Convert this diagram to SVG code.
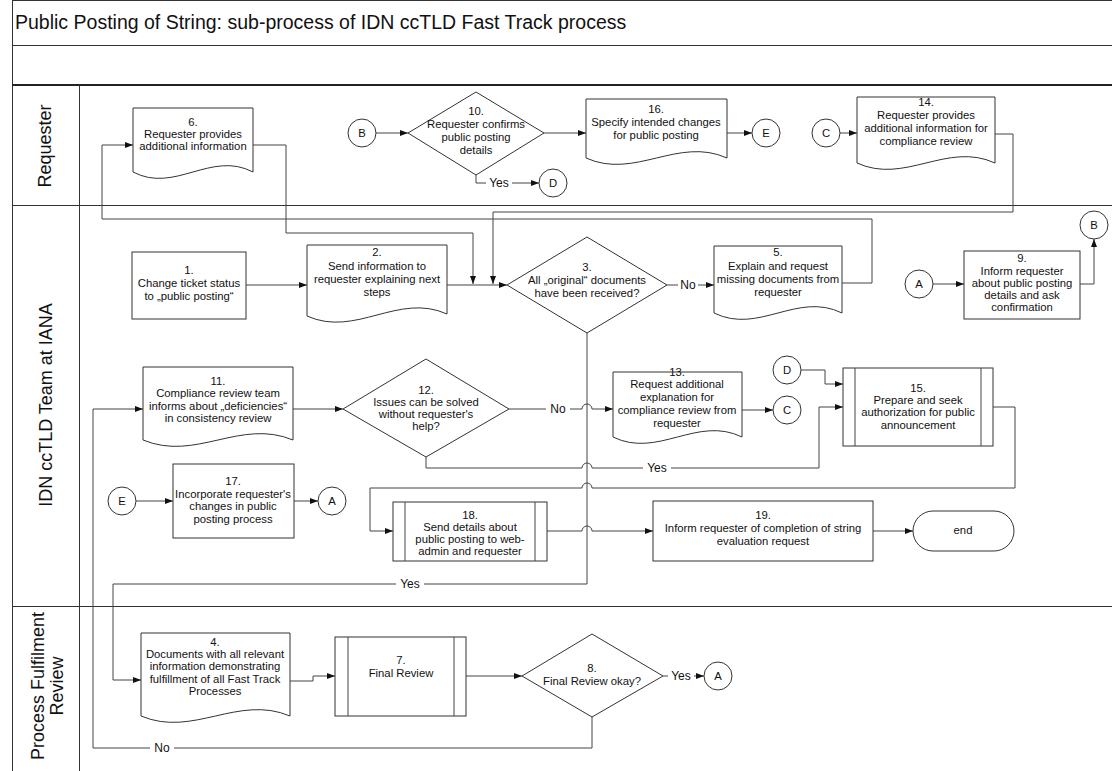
<svg xmlns="http://www.w3.org/2000/svg" width="1112" height="771" viewBox="0 0 1112 771">
<style>
.s{fill:#fff;stroke:#333;stroke-width:1}
.c{fill:none;stroke:#444;stroke-width:1}
.t{font-family:"Liberation Sans",Arial,sans-serif;font-size:11.3px;fill:#111;text-anchor:middle}
.l{font-family:"Liberation Sans",Arial,sans-serif;font-size:12px;fill:#111;text-anchor:middle}
.h{font-family:"Liberation Sans",Arial,sans-serif;font-size:18px;fill:#111;text-anchor:middle}
.fr{stroke:#333;stroke-width:1;fill:none}
</style>
<defs>
<marker id="a" markerWidth="8" markerHeight="6" refX="8" refY="3" orient="auto" markerUnits="userSpaceOnUse"><path d="M0,0L8,3L0,6z" fill="#111"/></marker>
</defs>
<rect width="1112" height="771" fill="#fff"/>
<g id="frame">
<line class="fr" x1="12" y1="0.5" x2="1112" y2="0.5"/>
<line class="fr" x1="12.5" y1="0" x2="12.5" y2="771"/>
<line class="fr" x1="12" y1="45.5" x2="1112" y2="45.5" stroke="#777"/>
<line x1="12" y1="85" x2="1112" y2="85" stroke="#222" stroke-width="2"/>
<line class="fr" x1="12" y1="205.5" x2="1112" y2="205.5" stroke="#666"/>
<line class="fr" x1="12" y1="606.5" x2="1112" y2="606.5" stroke="#666"/>
<line class="fr" x1="79.5" y1="85" x2="79.5" y2="771"/>
<text x="15" y="29" font-family="Liberation Sans,Arial,sans-serif" font-size="19.5" fill="#111">Public Posting of String: sub-process of IDN ccTLD Fast Track process</text>
<text class="h" transform="translate(51,146) rotate(-90)">Requester</text>
<text class="h" transform="translate(52,405) rotate(-90)">IDN ccTLD Team at IANA</text>
<text class="h" transform="translate(44,686) rotate(-90)">Process Fulfilment</text>
<text class="h" transform="translate(63,686) rotate(-90)">Review</text>
</g>
<g id="connectors">
<path class="c" d="M246,285H307" marker-end="url(#a)"/>
<path class="c" d="M447,285H507" marker-end="url(#a)"/>
<path class="c" d="M253,145H286V233H473V284" marker-end="url(#a)"/>
<path class="c" d="M842,283H872V219H102V145H133" marker-end="url(#a)"/>
<path class="c" d="M995,134H1013V212H493V284" marker-end="url(#a)"/>
<path class="c" d="M667,285H714" marker-end="url(#a)"/>
<path class="c" d="M587,333V584H113V680H141" marker-end="url(#a)"/>
<path class="c" d="M933,284H964" marker-end="url(#a)"/>
<path class="c" d="M1080,284H1094V239" marker-end="url(#a)"/>
<path class="c" d="M376,133H408" marker-end="url(#a)"/>
<path class="c" d="M544,133H586" marker-end="url(#a)"/>
<path class="c" d="M476,175V183H539" marker-end="url(#a)"/>
<path class="c" d="M727,133H752" marker-end="url(#a)"/>
<path class="c" d="M840,133H857" marker-end="url(#a)"/>
<path class="c" d="M592,717V748H93V409H143" marker-end="url(#a)"/>
<path class="c" d="M293,409H343" marker-end="url(#a)"/>
<path class="c" d="M509,409H582a5,5 0 0 1 10,0H613" marker-end="url(#a)"/>
<path class="c" d="M742,410H773" marker-end="url(#a)"/>
<path class="c" d="M801,370H825V384H843" marker-end="url(#a)"/>
<path class="c" d="M426,457V468H582a5,5 0 0 1 10,0H819V407H843" marker-end="url(#a)"/>
<path class="c" d="M993,407H1015V488H592a5,5 0 0 0 -10,0H370V531H393" marker-end="url(#a)"/>
<path class="c" d="M547,531H582a5,5 0 0 1 10,0H653" marker-end="url(#a)"/>
<path class="c" d="M873,531H913" marker-end="url(#a)"/>
<path class="c" d="M136,501H173" marker-end="url(#a)"/>
<path class="c" d="M294,501H318" marker-end="url(#a)"/>
<path class="c" d="M290,681H313V676H335" marker-end="url(#a)"/>
<path class="c" d="M466,676H522" marker-end="url(#a)"/>
<path class="c" d="M663,676H704" marker-end="url(#a)"/>
<g fill="#fff">
<rect x="678" y="278" width="20" height="14"/>
<rect x="486" y="176" width="26" height="14"/>
<rect x="546" y="402" width="24" height="14"/>
<rect x="643" y="461" width="28" height="14"/>
<rect x="396" y="577" width="28" height="14"/>
<rect x="150" y="741" width="24" height="14"/>
<rect x="668" y="669" width="26" height="14"/>
</g>
<text class="l" x="688" y="289">No</text>
<text class="l" x="499" y="187">Yes</text>
<text class="l" x="558" y="413">No</text>
<text class="l" x="657" y="472">Yes</text>
<text class="l" x="410" y="588">Yes</text>
<text class="l" x="162" y="752">No</text>
<text class="l" x="681" y="680">Yes</text>
</g>
<g id="n6"><path class="s" d="M133,108H253V172C211,150 175,194 133,172Z"/><text class="t" x="193" y="126">6.</text><text class="t" x="193" y="138">Requester provides</text><text class="t" x="193" y="150">additional information</text></g>
<g id="nB1"><circle class="s" cx="362" cy="133" r="14"/><text class="t" x="362" y="137">B</text></g>
<g id="n10"><path class="s" d="M408,133L476,92L544,133L476,175Z"/><text class="t" x="476" y="115">10.</text><text class="t" x="476" y="128">Requester confirms</text><text class="t" x="476" y="141">public posting</text><text class="t" x="476" y="154">details</text></g>
<g id="nD1"><circle class="s" cx="553" cy="183" r="14"/><text class="t" x="553" y="187">D</text></g>
<g id="n16"><path class="s" d="M586,99H727V158C678,136 635,180 586,158Z"/><text class="t" x="656" y="113">16.</text><text class="t" x="656" y="126">Specify intended changes</text><text class="t" x="656" y="139">for public posting</text></g>
<g id="nE1"><circle class="s" cx="766" cy="133" r="14"/><text class="t" x="766" y="137">E</text></g>
<g id="nC1"><circle class="s" cx="826" cy="133" r="14"/><text class="t" x="826" y="137">C</text></g>
<g id="n14"><path class="s" d="M857,97H995V163C947,141 905,185 857,163Z"/><text class="t" x="926" y="106">14.</text><text class="t" x="926" y="119">Requester provides</text><text class="t" x="926" y="132">additional information for</text><text class="t" x="926" y="145">compliance  review</text></g>
<g id="n1"><rect class="s" x="132" y="252" width="114" height="67"/><text class="t" x="189" y="274">1.</text><text class="t" x="189" y="287">Change ticket status</text><text class="t" x="189" y="300">to „public posting“</text></g>
<g id="n2"><path class="s" d="M307,245H447V314C398,292 356,338 307,316Z"/><text class="t" x="377" y="256">2.</text><text class="t" x="377" y="270">Send information to</text><text class="t" x="377" y="283">requester explaining next</text><text class="t" x="377" y="296">steps</text></g>
<g id="n3"><path class="s" d="M507,285L587,237L667,285L587,333Z"/><text class="t" x="587" y="271">3.</text><text class="t" x="587" y="284">All „original“ documents</text><text class="t" x="587" y="297">have been received?</text></g>
<g id="n5"><path class="s" d="M714,246H842V313C797,291 759,335 714,313Z"/><text class="t" x="778" y="256">5.</text><text class="t" x="778" y="270">Explain and request</text><text class="t" x="778" y="283">missing documents from</text><text class="t" x="778" y="296">requester</text></g>
<g id="nA1"><circle class="s" cx="919" cy="284" r="14"/><text class="t" x="919" y="288">A</text></g>
<g id="n9"><rect class="s" x="964" y="251" width="116" height="68"/><text class="t" x="1022" y="262">9.</text><text class="t" x="1022" y="275">Inform requester</text><text class="t" x="1022" y="287">about public posting</text><text class="t" x="1022" y="299">details and ask</text><text class="t" x="1022" y="311">confirmation</text></g>
<g id="nB2"><circle class="s" cx="1094" cy="225" r="14"/><text class="t" x="1094" y="229">B</text></g>
<g id="n11"><path class="s" d="M143,367H293V440C240,418 196,462 143,440Z"/><text class="t" x="218" y="385">11.</text><text class="t" x="218" y="397">Compliance review team</text><text class="t" x="218" y="410">informs about „deficiencies“</text><text class="t" x="218" y="422">in consistency review</text></g>
<g id="n12"><path class="s" d="M343,409L426,359L509,409L426,457Z"/><text class="t" x="426" y="394">12.</text><text class="t" x="426" y="406">Issues can be solved</text><text class="t" x="426" y="418">without requester's</text><text class="t" x="426" y="430">help?</text></g>
<g id="n13"><path class="s" d="M613,372H742V437C697,415 658,459 613,437Z"/><text class="t" x="677" y="376">13.</text><text class="t" x="677" y="388">Request additional</text><text class="t" x="677" y="401">explanation for</text><text class="t" x="677" y="414">compliance review from</text><text class="t" x="677" y="427">requester</text></g>
<g id="nD2"><circle class="s" cx="787" cy="370" r="14"/><text class="t" x="787" y="374">D</text></g>
<g id="nC2"><circle class="s" cx="787" cy="410" r="14"/><text class="t" x="787" y="414">C</text></g>
<g id="n15"><rect class="s" x="843" y="368" width="150" height="78"/><path class="c" d="M855,368V446M981,368V446"/><text class="t" x="918" y="392">15.</text><text class="t" x="918" y="404">Prepare and seek</text><text class="t" x="918" y="416">authorization for public</text><text class="t" x="918" y="429">announcement</text></g>
<g id="nE2"><circle class="s" cx="122" cy="501" r="14"/><text class="t" x="122" y="505">E</text></g>
<g id="n17"><rect class="s" x="173" y="464" width="121" height="74"/><text class="t" x="233" y="485">17.</text><text class="t" x="233" y="498">Incorporate requester's</text><text class="t" x="233" y="510">changes in public</text><text class="t" x="233" y="523">posting process</text></g>
<g id="nA2"><circle class="s" cx="332" cy="501" r="14"/><text class="t" x="332" y="505">A</text></g>
<g id="n18"><rect class="s" x="393" y="502" width="154" height="59"/><path class="c" d="M405,502V561M535,502V561"/><text class="t" x="470" y="519">18.</text><text class="t" x="470" y="531">Send details about</text><text class="t" x="470" y="543">public posting to web-</text><text class="t" x="470" y="555">admin and requester</text></g>
<g id="n19"><rect class="s" x="653" y="501" width="220" height="60"/><text class="t" x="763" y="519">19.</text><text class="t" x="763" y="532">Inform requester of completion of string</text><text class="t" x="763" y="545">evaluation request</text></g>
<g id="nend"><rect class="s" x="913" y="511" width="101" height="40" rx="20" ry="20"/><text class="t" x="963" y="534">end</text></g>
<g id="n4"><path class="s" d="M141,633H290V716C238,694 193,738 141,716Z"/><text class="t" x="215" y="646">4.</text><text class="t" x="215" y="658">Documents with all relevant</text><text class="t" x="215" y="670">information demonstrating</text><text class="t" x="215" y="683">fulfillment of all Fast Track</text><text class="t" x="215" y="695">Processes</text></g>
<g id="n7"><rect class="s" x="335" y="637" width="131" height="79"/><path class="c" d="M348,637V716M454,637V716"/><text class="t" x="401" y="664">7.</text><text class="t" x="401" y="677">Final Review</text></g>
<g id="n8"><path class="s" d="M522,676L592,634L663,676L592,717Z"/><text class="t" x="592" y="672">8.</text><text class="t" x="592" y="685">Final Review okay?</text></g>
<g id="nA3"><circle class="s" cx="718" cy="676" r="14"/><text class="t" x="718" y="680">A</text></g>
</svg>
